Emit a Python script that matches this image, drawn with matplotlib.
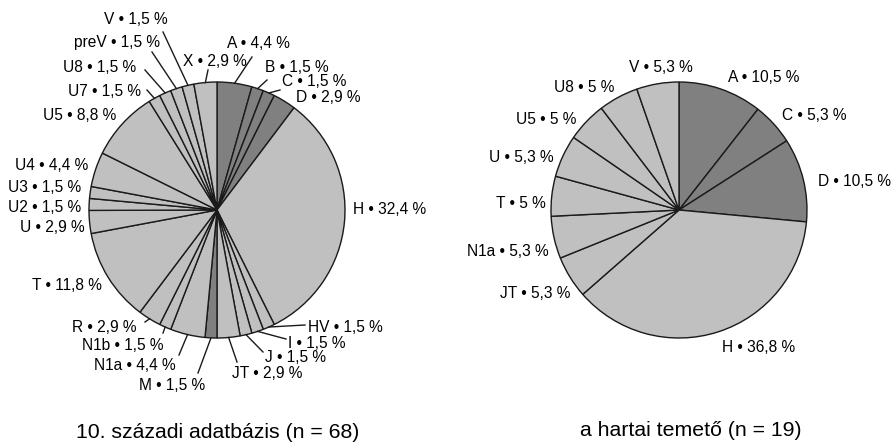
import matplotlib as mpl
import matplotlib.pyplot as plt
import numpy as np

mpl.rcParams['font.family'] = ['Liberation Sans', 'DejaVu Sans']

DARK  = "#808080"
LIGHT = "#c0c0c0"
LINE  = "#1a1a1a"

# --- data: 10. századi adatbázis (n = 68) ---
left_labels = ["A", "B", "C", "D", "H", "HV", "I", "J", "JT", "M", "N1a", "N1b",
               "R", "T", "U", "U2", "U3", "U4", "U5", "U7", "U8", "preV", "V", "X"]
left_values = [4.4, 1.5, 1.5, 2.9, 32.4, 1.5, 1.5, 1.5, 2.9, 1.5, 4.4, 1.5,
               2.9, 11.8, 2.9, 1.5, 1.5, 4.4, 8.8, 1.5, 1.5, 1.5, 1.5, 2.9]
left_dark = ["A", "B", "C", "D", "M"]
left_title = "10. századi adatbázis (n = 68)"

# --- data: a hartai temető (n = 19) ---
right_labels = ["A", "C", "D", "H", "JT", "N1a", "T", "U", "U5", "U8", "V"]
right_values = [10.5, 5.3, 10.5, 36.8, 5.3, 5.3, 5, 5.3, 5, 5, 5.3]
right_dark = ["A", "C", "D"]
right_title = "a hartai temető (n = 19)"

# --- layout (pixels from top-left of the 893x442 canvas) ---
W, H = 893, 442
R = 128
left_center = (217, 210)
right_center = (679, 210)

left_text_pos = {
    "V": (104, 20), "preV": (74, 43), "X": (183, 62), "A": (227, 43),
    "B": (265, 68), "C": (282, 82), "D": (296, 97), "U8": (63, 68),
    "U7": (68, 91), "U5": (43, 115), "U4": (15, 166), "U3": (8, 187),
    "U2": (8, 207), "U": (20, 227), "T": (32, 286), "R": (72, 327),
    "N1b": (82, 346), "N1a": (94, 366), "M": (139, 385), "JT": (232, 373),
    "J": (265, 358), "I": (288, 343), "HV": (308, 327), "H": (353, 210),
}
left_leader_from = {
    "V": (163, 32), "preV": (152, 52), "X": (208, 70), "A": (252, 57),
    "B": (267, 80), "C": (280, 90), "U8": (145, 70), "U7": (147, 90),
    "R": (145, 322), "N1b": (163, 333), "N1a": (179, 355), "M": (198, 373),
    "JT": (237, 362), "J": (263, 352), "I": (286, 339), "HV": (305, 325),
}
right_text_pos = {
    "V": (629, 67), "A": (728, 78), "C": (782, 115), "D": (818, 182),
    "U8": (554, 88), "U5": (516, 119), "U": (489, 158), "T": (496, 204),
    "N1a": (467, 251), "JT": (500, 294), "H": (722, 348),
}

FS_LABEL = 11.2
FS_TITLE = 15.3


def Y(y):
    return H - y


def fmt(lab, v):
    return f"{lab} • {str(v).replace('.', ',')} %"


def draw_pie(ax, labels, values, dark, center, text_pos, leader_from):
    colors = [DARK if lab in dark else LIGHT for lab in labels]
    wedges, _ = ax.pie(values, colors=colors, startangle=90, counterclock=False,
                       center=(center[0], Y(center[1])), radius=R,
                       wedgeprops=dict(edgecolor=LINE, linewidth=1.0))
    for w, lab, v in zip(wedges, labels, values):
        tx, ty = text_pos[lab]
        ax.text(tx, Y(ty), fmt(lab, v), ha="left", va="center", fontsize=FS_LABEL)
        if lab in leader_from:
            mid = np.deg2rad((w.theta1 + w.theta2) / 2)
            ex = center[0] + R * np.cos(mid)
            ey = Y(center[1]) + R * np.sin(mid)
            sx, sy = leader_from[lab]
            ax.plot([sx, ex], [Y(sy), ey], color=LINE, lw=1.0)


fig = plt.figure(figsize=(W / 100, H / 100), dpi=100)
ax = fig.add_axes([0, 0, 1, 1])

draw_pie(ax, left_labels, left_values, left_dark, left_center, left_text_pos, left_leader_from)
draw_pie(ax, right_labels, right_values, right_dark, right_center, right_text_pos, {})

ax.text(218, Y(432), left_title, ha="center", va="center", fontsize=FS_TITLE)
ax.text(691, Y(430), right_title, ha="center", va="center", fontsize=FS_TITLE)

ax.set_xlim(0, W)
ax.set_ylim(0, H)
ax.set_aspect("auto")
ax.axis("off")

fig.savefig("out.png", dpi=100, facecolor="white")
